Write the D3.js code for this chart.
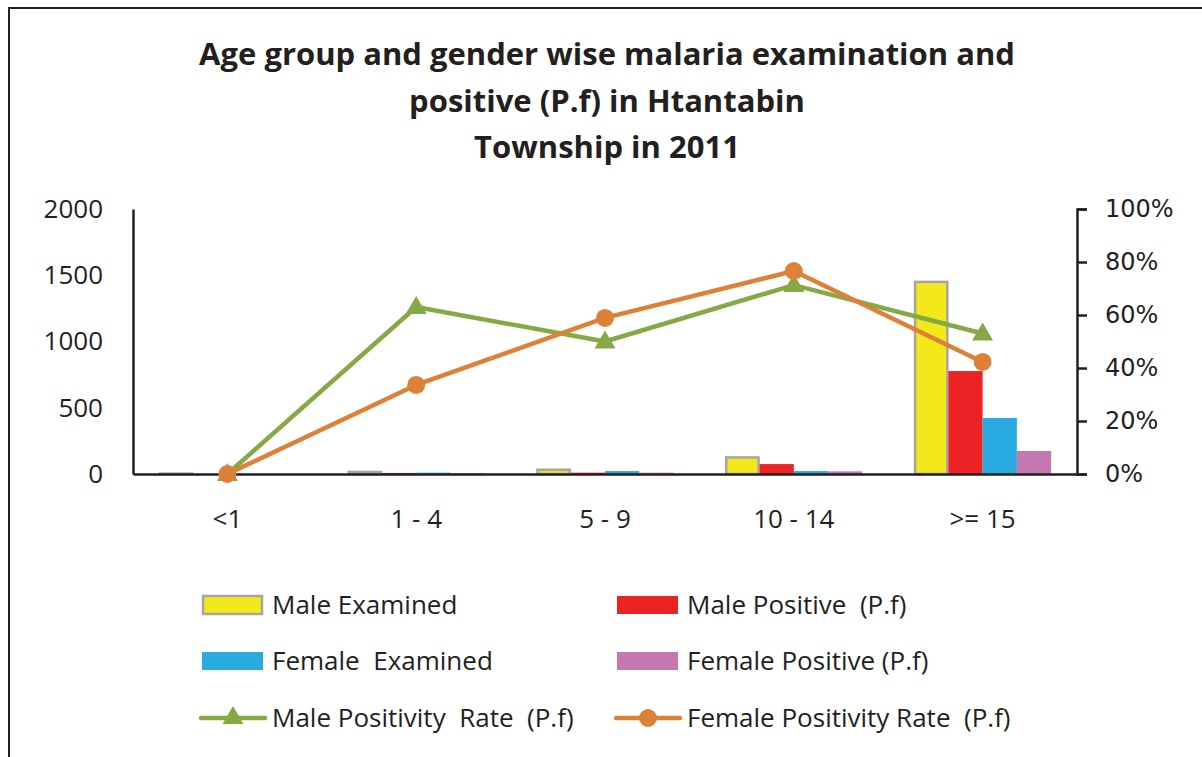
<!DOCTYPE html>
<html>
<head>
<meta charset="utf-8">
<script src="https://cdn.jsdelivr.net/npm/d3@7"></script>
<style>
  body { margin: 0; background: #fff; }
  svg { display: block; }
</style>
</head>
<body>
<div id="chart"></div>
<script>
// categories and series
const ageGroups = ["<1", "1 - 4", "5 - 9", "10 - 14", ">= 15"];
const maleExamined = [3, 15, 32, 125, 1450];
const malePositive = [1, 8, 10, 75, 777];
const femaleExamined = [2, 10, 22, 22, 423];
const femalePositive = [1, 6, 10, 20, 174];
const malePosRate = [0, 0.63, 0.50, 0.713, 0.53];
const femalePosRate = [0, 0.336, 0.589, 0.766, 0.423];
const leftTicks = [0, 500, 1000, 1500, 2000];
const rightTicks = [0, 0.2, 0.4, 0.6, 0.8, 1.0];

const titleLines = [
  "Age group and gender wise malaria examination and",
  "positive (P.f) in Htantabin",
  "Township in 2011"
];

const barSeries = [
  { name: "Male Examined", values: maleExamined, color: "#f2e81a", stroke: "#a6a6a6" },
  { name: "Male Positive  (P.f)", values: malePositive, color: "#ed2224", stroke: null },
  { name: "Female  Examined", values: femaleExamined, color: "#29abe2", stroke: null },
  { name: "Female Positive (P.f)", values: femalePositive, color: "#c577b0", stroke: null }
];
const lineSeries = [
  { name: "Male Positivity  Rate  (P.f)", values: malePosRate, color: "#86a845", marker: "triangle" },
  { name: "Female Positivity Rate  (P.f)", values: femalePosRate, color: "#de8138", marker: "circle" }
];

const W = 1202, H = 757;
const plot = { left: 133, right: 1077, top: 209, bottom: 474 };
const ink = "#231f20";

const svg = d3.select("#chart").append("svg")
  .attr("width", W)
  .attr("height", H);

// outer frame (left and top edges visible)
svg.append("path")
  .attr("d", `M9,${H} L9,8 L${W},8`)
  .attr("fill", "none")
  .attr("stroke", ink)
  .attr("stroke-width", 2);

// title
svg.append("g").selectAll("text")
  .data(titleLines)
  .join("text")
  .attr("x", 607)
  .attr("y", (d, i) => 65 + i * 46.5)
  .attr("text-anchor", "middle")
  .style("font-family", "'Open Sans', sans-serif")
  .style("font-weight", "bold")
  .style("font-size", "31px")
  .attr("fill", ink)
  .text(d => d);

// scales
const x0 = d3.scaleBand().domain(ageGroups).range([plot.left, plot.right]).padding(0);
const groupPad = x0.bandwidth() * 0.137;
const x1 = d3.scaleBand().domain(barSeries.map(s => s.name))
  .range([groupPad, x0.bandwidth() - groupPad]).padding(0);
const yL = d3.scaleLinear().domain([0, 2000]).range([plot.bottom, plot.top]);
const yR = d3.scaleLinear().domain([0, 1]).range([plot.bottom, plot.top]);

// bars
const barG = svg.append("g");
barSeries.forEach(s => {
  barG.append("g").selectAll("rect")
    .data(s.values)
    .join("rect")
    .attr("x", (d, i) => x0(ageGroups[i]) + x1(s.name) + (s.stroke ? 1 : 0))
    .attr("y", d => yL(d))
    .attr("width", x1.bandwidth() - (s.stroke ? 2 : 0))
    .attr("height", d => yL(0) - yL(d))
    .attr("fill", s.color)
    .attr("stroke", s.stroke || "none")
    .attr("stroke-width", s.stroke ? 2.5 : 0);
});

// left axis (line only, no tick marks)
const axisL = svg.append("g")
  .attr("transform", `translate(${plot.left},0)`)
  .call(d3.axisLeft(yL).tickValues(leftTicks).tickFormat(d3.format("d")).tickSize(0).tickPadding(30));
axisL.select(".domain").attr("stroke", ink).attr("stroke-width", 2.5);
axisL.selectAll("text")
  .style("font-family", "'Open Sans', sans-serif")
  .style("font-size", "26px")
  .attr("fill", ink);

// right axis
const axisR = svg.append("g")
  .attr("transform", `translate(${plot.right},0)`)
  .call(d3.axisRight(yR).tickValues(rightTicks).tickFormat(d3.format(".0%")).tickSizeInner(10).tickSizeOuter(10).tickPadding(18));
axisR.select(".domain").attr("stroke", ink).attr("stroke-width", 2.5);
axisR.selectAll("line").attr("stroke", ink).attr("stroke-width", 2.5);
axisR.selectAll("text")
  .style("font-family", "'DejaVu Sans', sans-serif")
  .style("font-size", "24px")
  .attr("fill", ink);

// bottom axis
const axisB = svg.append("g")
  .attr("transform", `translate(0,${plot.bottom})`)
  .call(d3.axisBottom(x0).tickSize(0).tickPadding(36));
axisB.select(".domain").attr("stroke", ink).attr("stroke-width", 2.5);
axisB.selectAll("text")
  .style("font-family", "'Open Sans', sans-serif")
  .style("font-size", "26px")
  .attr("fill", ink);

// lines
const cx = d => x0(d) + x0.bandwidth() / 2;
const triangle = d3.symbol().type(d3.symbolTriangle).size(190);
lineSeries.forEach(s => {
  const line = d3.line().x((d, i) => cx(ageGroups[i])).y(d => yR(d));
  svg.append("path")
    .datum(s.values)
    .attr("d", line)
    .attr("fill", "none")
    .attr("stroke", s.color)
    .attr("stroke-width", 4.5)
    .attr("stroke-linejoin", "round");
  const g = svg.append("g");
  if (s.marker === "circle") {
    g.selectAll("circle").data(s.values).join("circle")
      .attr("cx", (d, i) => cx(ageGroups[i]))
      .attr("cy", d => yR(d))
      .attr("r", 9)
      .attr("fill", s.color);
  } else {
    g.selectAll("path").data(s.values).join("path")
      .attr("d", triangle)
      .attr("transform", (d, i) => `translate(${cx(ageGroups[i])},${yR(d) + 1})`)
      .attr("fill", s.color);
  }
});

// legend
const legendItems = [
  { s: barSeries[0], col: 0, row: 0, type: "bar" },
  { s: barSeries[1], col: 1, row: 0, type: "bar" },
  { s: barSeries[2], col: 0, row: 1, type: "bar" },
  { s: barSeries[3], col: 1, row: 1, type: "bar" },
  { s: lineSeries[0], col: 0, row: 2, type: "line" },
  { s: lineSeries[1], col: 1, row: 2, type: "line" }
];
const legX = [202, 617], legY = [605, 661, 718];
const leg = svg.append("g");
legendItems.forEach(it => {
  const gx = legX[it.col], gy = legY[it.row];
  const g = leg.append("g").attr("transform", `translate(${gx},${gy})`);
  if (it.type === "bar") {
    g.append("rect")
      .attr("x", it.s.stroke ? 1 : 0).attr("y", -9)
      .attr("width", it.s.stroke ? 59 : 61).attr("height", 18)
      .attr("fill", it.s.color)
      .attr("stroke", it.s.stroke || "none")
      .attr("stroke-width", it.s.stroke ? 2.5 : 0);
  } else {
    g.append("line").attr("x1", -1).attr("x2", 63).attr("y1", 0).attr("y2", 0)
      .attr("stroke", it.s.color).attr("stroke-width", 4.5).attr("stroke-linecap", "round");
    if (it.s.marker === "circle") {
      g.append("circle").attr("cx", 31).attr("cy", 0).attr("r", 9).attr("fill", it.s.color);
    } else {
      g.append("path").attr("d", triangle).attr("transform", "translate(31,0)").attr("fill", it.s.color);
    }
  }
  g.append("text")
    .attr("x", 70)
    .attr("y", 0)
    .attr("dy", "0.35em")
    .style("font-family", "'Open Sans', sans-serif")
    .style("font-size", "26px")
    .style("white-space", "pre")
    .attr("fill", ink)
    .text(it.s.name);
});
</script>
</body>
</html>
